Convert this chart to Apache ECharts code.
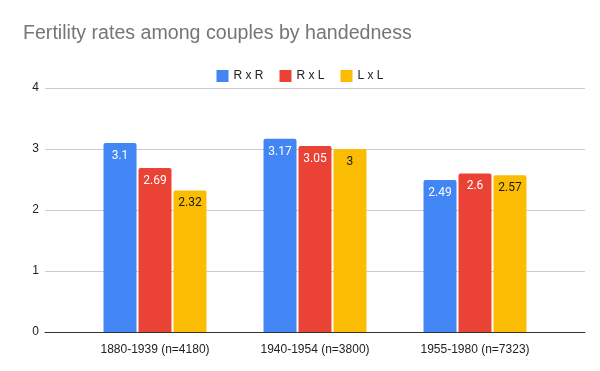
<!DOCTYPE html>
<html><head><meta charset="utf-8">
<script src="https://cdn.jsdelivr.net/npm/echarts@6/dist/echarts.min.js"></script>
<style>html,body{margin:0;padding:0;background:#fff}#c{width:600px;height:371px}</style>
</head><body><div id="c"></div>
<script>
const categories = ['1880-1939 (n=4180)', '1940-1954 (n=3800)', '1955-1980 (n=7323)'];
const seriesNames = ['R x R', 'R x L', 'L x L'];
const rxr = [3.1, 3.17, 2.49];
const rxl = [2.69, 3.05, 2.6];
const lxl = [2.32, 3, 2.57];
const yTicks = [0, 1, 2, 3, 4];

const colors = ['#4285f4', '#ea4335', '#fbbc04'];
const labelColors = ['#ffffff', '#ffffff', '#1a1a1a'];
const font = '"Liberation Sans", Arial, sans-serif';
const chart = echarts.init(document.getElementById('c'), null, {renderer: 'canvas'});
const data = [rxr, rxl, lxl];
chart.setOption({
  backgroundColor: '#fff',
  animation: false,
  title: {text: 'Fertility rates among couples by handedness', left: 18, top: 19,
    textStyle: {fontFamily: font, fontSize: 19.6, fontWeight: 'normal', color: '#757575'}},
  legend: {top: 65, left: 'center', itemWidth: 12, itemHeight: 12, itemGap: 16, itemTextGap: 8,
    icon: 'rect', data: seriesNames,
    textStyle: {fontFamily: font, fontSize: 12, color: '#222'}},
  grid: [
    {left: 45, right: 15, top: 88, bottom: 39},
    {left: 75, right: 45, top: 88, bottom: 39}
  ],
  xAxis: [
    {gridIndex: 0, type: 'value', min: 0, max: 1, axisLabel: {show: false}, axisTick: {show: false},
     splitLine: {show: false}, axisLine: {show: true, onZero: false, lineStyle: {color: '#333', width: 1}}},
    {gridIndex: 1, type: 'category', data: categories, axisLine: {show: false}, axisTick: {show: false},
     axisLabel: {margin: 12, fontFamily: font, fontSize: 12, color: '#222'}}
  ],
  yAxis: [
    {gridIndex: 0, type: 'value', min: yTicks[0], max: yTicks[yTicks.length-1], interval: 1,
     axisLine: {show: false}, axisTick: {show: false},
     axisLabel: {margin: 6, fontFamily: font, fontSize: 12, color: '#222'},
     splitLine: {lineStyle: {color: '#cccccc', width: 1}}},
    {gridIndex: 1, type: 'value', min: yTicks[0], max: yTicks[yTicks.length-1], interval: 1, show: false,
     splitLine: {show: false}}
  ],
  series: seriesNames.map((n, i) => ({
    name: n, type: 'bar', xAxisIndex: 1, yAxisIndex: 1, data: data[i],
    barWidth: 33, barGap: '6%',
    itemStyle: {color: colors[i], borderRadius: [2, 2, 0, 0]},
    label: {show: true, position: 'insideTop', distance: 7, fontFamily: 'Roboto, Arial, sans-serif', fontSize: 12,
      color: labelColors[i]}
  }))
});
</script></body></html>
